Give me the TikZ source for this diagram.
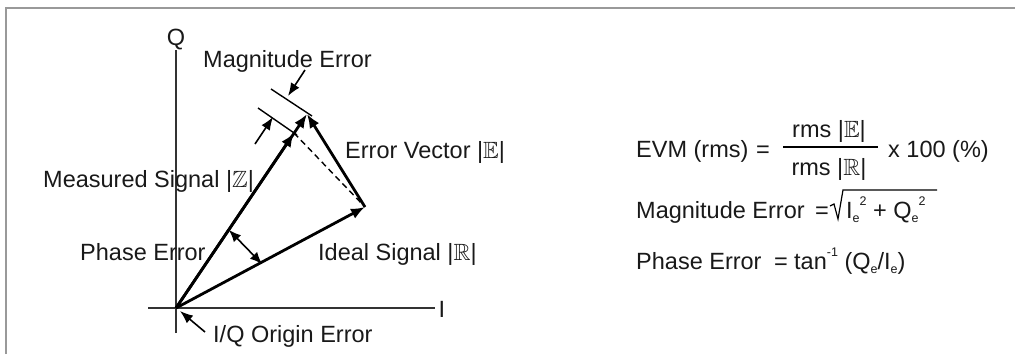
\documentclass[tikz,border=0pt]{standalone}
\usepackage{fontspec}
\setmainfont{Liberation Sans}
\usepackage{amssymb}
\usetikzlibrary{arrows.meta}
\newcommand\sbx[1]{\raisebox{-4pt}{\fontsize{12.5}{12.5}\selectfont #1}}
\newcommand\spx[1]{\raisebox{13pt}{\fontsize{12.5}{12.5}\selectfont #1}}
\begin{document}
\begin{tikzpicture}[x=1pt,y=-1pt,
  lbl/.style={font=\fontsize{23.5}{28}\selectfont, inner sep=0pt, text=black!90},
  axisline/.style={line width=1.6pt, draw=black!80},
  vec/.style={line width=2.8pt, -{Latex[length=14pt,width=11pt]}},
  thinline/.style={line width=1.4pt},
  tipline/.style={line width=1.6pt, -{Latex[length=13pt,width=10pt]}},
  frame/.style={draw=black!40, line width=1.5pt}]
\useasboundingbox (0,0) rectangle (1015,354);
% frame
\coordinate (f1) at (6,354);
\coordinate (f2) at (6,8);
\coordinate (f3) at (1015,8);
\draw[frame] (f1) -- (f2) -- (f3);
% axes
\coordinate (O) at (176,308);
\coordinate (Qt) at (176,50);
\coordinate (Qb) at (176,333);
\coordinate (Il) at (148,308);
\coordinate (Ir) at (435,308);
\draw[axisline] (Qb) -- (Qt);
\draw[axisline] (Il) -- (Ir);
\node[lbl, anchor=base] (Qlab) at (176,45) {Q};
\node[lbl, anchor=base] (Ilab) at (442,317) {I};
% vectors
\coordinate (R) at (365,207);
\coordinate (M) at (307,114);
\coordinate (P) at (294,133);
\draw[thinline, dashed, dash pattern=on 6pt off 4pt] (P) -- (R);
\draw[vec] (O) -- (R);
\draw[vec] (O) -- (P);
\draw[vec] (O) -- (M);
\draw[vec] (R) -- (M);
% magnitude error ticks
\coordinate (T1a) at (312,116);
\coordinate (T1b) at (271,89);
\coordinate (T2a) at (297,135);
\coordinate (T2b) at (258,108);
\draw[thinline] (T1a) -- (T1b);
\draw[thinline] (T2a) -- (T2b);
\coordinate (A1s) at (305,70);
\coordinate (A1e) at (288,96);
\coordinate (A2s) at (255,144);
\coordinate (A2e) at (273,117);
\draw[tipline] (A1s) -- (A1e);
\draw[tipline] (A2s) -- (A2e);
% phase error
\coordinate (Ph1) at (229,230);
\coordinate (Ph2) at (262,264);
\draw[line width=1.6pt, {Latex[length=12pt,width=10pt]}-{Latex[length=12pt,width=10pt]}] (Ph1) -- (Ph2);
% origin error
\coordinate (Os) at (205,332);
\coordinate (Oe) at (180,311);
\draw[tipline] (Os) -- (Oe);
% labels
\node[lbl, anchor=base west] (magerr) at (203,67) {Magnitude Error};
\node[lbl, anchor=base west] (errvec) at (345,158) {Error Vector |$\mathbb{E}$|};
\node[lbl, anchor=base west] (meas) at (43,187) {Measured Signal |$\mathbb{Z}$|};
\node[lbl, anchor=base west] (phase) at (80,260) {Phase Error};
\node[lbl, anchor=base west] (ideal) at (318,260) {Ideal Signal |$\mathbb{R}$|};
\node[lbl, anchor=base west] (origin) at (213,342) {I/Q Origin Error};
% equations
\node[lbl, anchor=base west] (evm) at (636,157) {EVM (rms)};
\node[lbl, anchor=base] (eq1) at (763,157) {=};
\node[lbl, anchor=base] (num) at (829,137) {rms |$\mathbb{E}$|};
\node[lbl, anchor=base] (den) at (829,175) {rms |$\mathbb{R}$|};
\coordinate (b1) at (783,147);
\coordinate (b2) at (878,147);
\draw[line width=1.3pt] (b1) -- (b2);
\node[lbl, anchor=base west] (pct) at (888,157) {x 100 (\%)};
\node[lbl, anchor=base west] (mag2) at (636,218) {Magnitude Error};
\node[lbl, anchor=base] (eq2) at (822,218) {=};
\coordinate (r1) at (830,206);
\coordinate (r2) at (834,204);
\coordinate (r3) at (838,219);
\coordinate (r4) at (843,190);
\coordinate (r5) at (937,190);
\draw[line width=1.2pt] (r1) -- (r2) -- (r3) -- (r4) -- (r5);
\node[lbl, anchor=base west] (sqr) at (846,218) {I\sbx{e}\spx{2} + Q\sbx{e}\spx{2}};
\node[lbl, anchor=base west] (ph2) at (636,269) {Phase Error};
\node[lbl, anchor=base] (eq3) at (781,269) {=};
\node[lbl, anchor=base west] (tanx) at (794,269) {tan\spx{-1} (Q\sbx{e}/I\sbx{e})};
\end{tikzpicture}
\end{document}
